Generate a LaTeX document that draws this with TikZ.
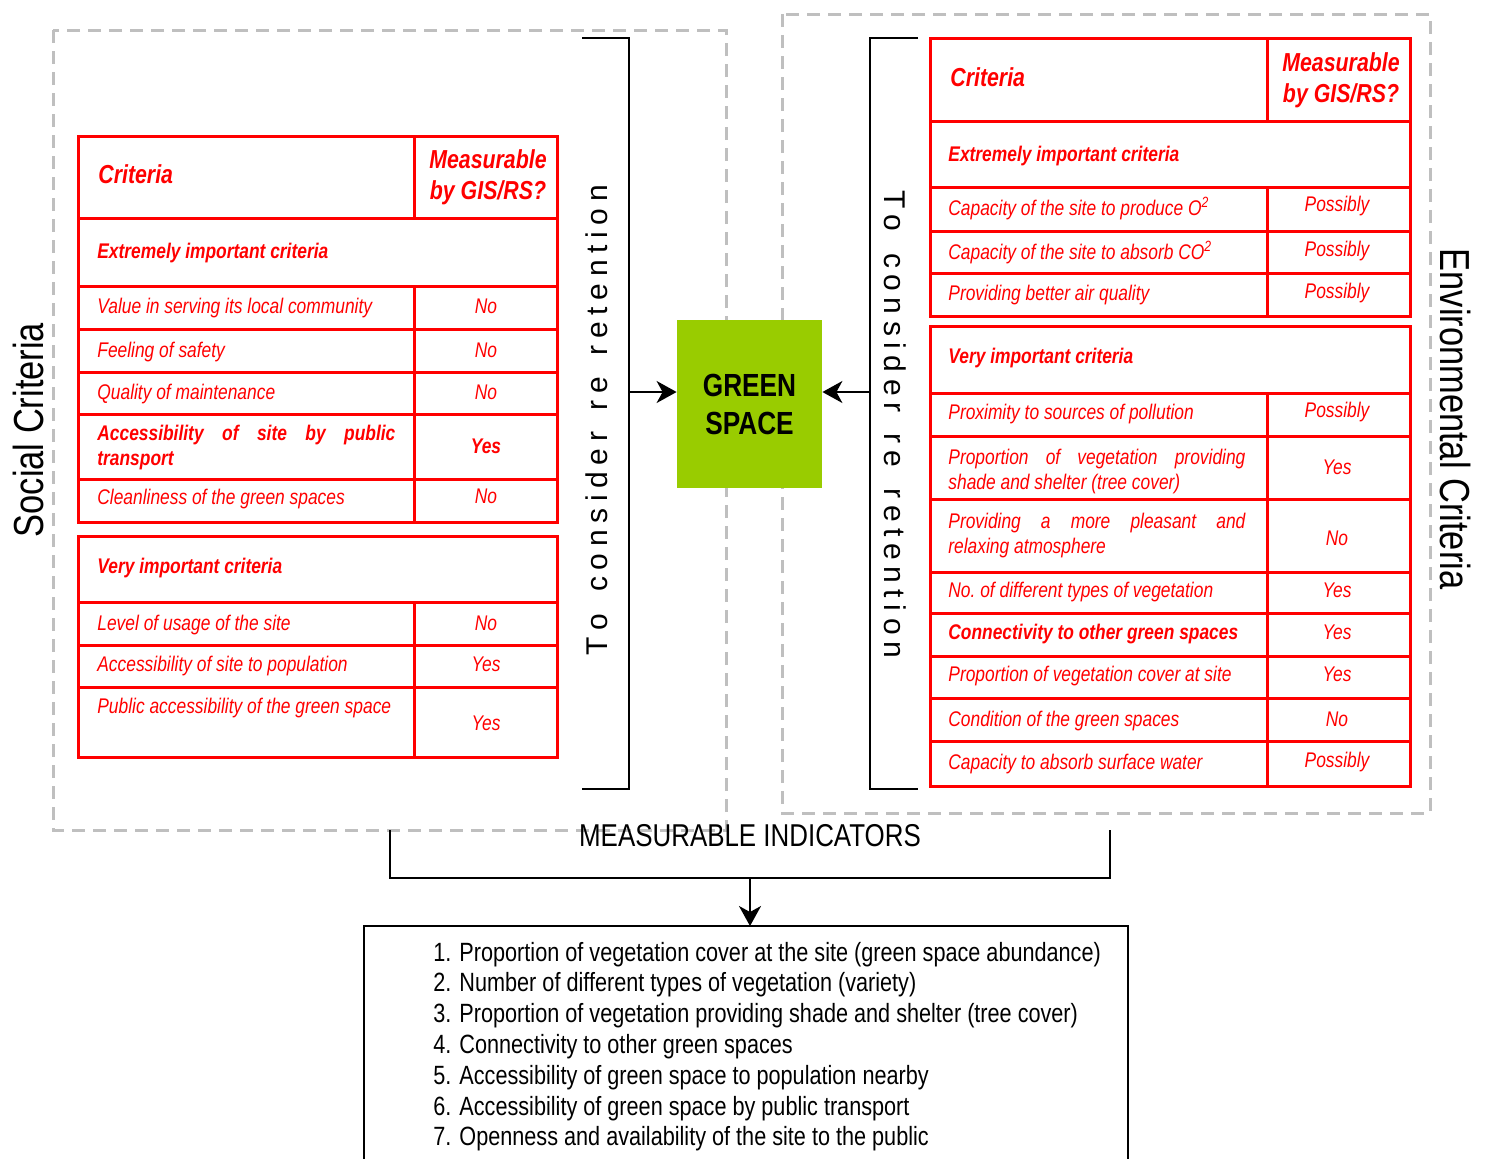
\documentclass[tikz,border=0pt]{standalone}
\usepackage{fontspec}
\setmainfont{Liberation Sans}[FakeStretch=0.82]
\newfontfamily\widefont{Liberation Sans}
\usetikzlibrary{arrows.meta}

\definecolor{tabred}{RGB}{255,0,0}
\definecolor{framegray}{RGB}{191,191,191}
\definecolor{leaf}{RGB}{153,204,0}

\tikzset{
  redrule/.style={draw=tabred, line width=1.5pt},
  dashframe/.style={draw=framegray, line width=1.5pt, dash pattern=on 6.5pt off 4pt},
  bracketline/.style={draw=black, line width=1pt},
  arr/.style={-{Stealth[length=10pt,width=11pt,inset=3pt]}, line width=1pt},
  cell/.style={anchor=west, inner sep=0pt, text=tabred, align=left, yshift=-0.8pt,
    font=\fontsize{10.6}{12.5}\selectfont\itshape},
  bcell/.style={cell, font=\fontsize{10.6}{12.5}\selectfont\bfseries\itshape},
  val/.style={inner sep=0pt, text=tabred, font=\fontsize{10.6}{12.5}\selectfont\itshape},
  bval/.style={val, font=\fontsize{10.6}{12.5}\selectfont\bfseries\itshape},
  headcell/.style={inner sep=0pt, text=tabred, align=left,
    font=\fontsize{13}{15.5}\selectfont\bfseries\itshape},
  sidetitle/.style={inner sep=0pt, font=\fontsize{21}{25}\selectfont},
  spreadlabel/.style={inner sep=0pt, font=\widefont\fontsize{15}{18}\selectfont},
  listline/.style={anchor=base west, inner sep=0pt, font=\fontsize{13.2}{15.4}\selectfont},
}

\newcommand\spreadtext{T\hfill o\hfill\ \hfill c\hfill o\hfill n\hfill s\hfill i\hfill d\hfill e\hfill r\hfill\ \hfill r\hfill e\hfill\ \hfill r\hfill e\hfill t\hfill e\hfill n\hfill t\hfill i\hfill o\hfill n}

\begin{document}
\begin{tikzpicture}[x=0.5pt,y=-0.5pt]
\clip (0,0) rectangle (1486,1158);

% dashed group frames
\draw[dashframe] (53,30) rectangle (726,830);
\draw[dashframe] (782,14) rectangle (1430,813);

% side titles
\node[sidetitle, rotate=90] (social) at (28,430) {Social Criteria};
\node[sidetitle, rotate=-90] (env) at (1455,419) {Environmental Criteria};

% ---------- social table, first block ----------
\draw[redrule] (78,136) rectangle (557,522);
\foreach \yy in {218,286,329,372,414,479} \draw[redrule] (78,\yy) -- (557,\yy);
\draw[redrule] (414,136) -- (414,218);
\draw[redrule] (414,286) -- (414,522);

\node[headcell, anchor=west] (sh1) at (98,174) {Criteria};
\node[headcell, align=center] (sh2) at (488,177) {Measurable\\by GIS/RS?};
\node[bcell] (sx) at (97,251) {Extremely important criteria};
\node[cell] (s1) at (97,306) {Value in serving its local community};
\node[val] (s1v) at (486,306) {No};
\node[cell] (s2) at (97,350) {Feeling of safety};
\node[val] (s2v) at (486,350) {No};
\node[cell] (s3) at (97,392) {Quality of maintenance};
\node[val] (s3v) at (486,392) {No};
\node[bcell] (s4) at (97,445.5) {\makebox[149pt][s]{Accessibility of site by public}\\transport};
\node[bval] (s4v) at (486,446) {Yes};
\node[cell] (s5) at (97,497) {Cleanliness of the green spaces};
\node[val] (s5v) at (486,496) {No};

% ---------- social table, second block ----------
\draw[redrule] (78,536) rectangle (557,757);
\foreach \yy in {602,645,687} \draw[redrule] (78,\yy) -- (557,\yy);
\draw[redrule] (414,602) -- (414,757);

\node[bcell] (sv) at (97,566) {Very important criteria};
\node[cell] (s6) at (97,623) {Level of usage of the site};
\node[val] (s6v) at (486,623) {No};
\node[cell] (s7) at (97,664) {Accessibility of site to population};
\node[val] (s7v) at (486,664) {Yes};
\node[cell] (s8) at (97,706) {Public accessibility of the green space};
\node[val] (s8v) at (486,723) {Yes};

% ---------- environmental table, first block ----------
\draw[redrule] (930,38) rectangle (1410,316);
\foreach \yy in {121,187,231,273} \draw[redrule] (930,\yy) -- (1410,\yy);
\draw[redrule] (1267,38) -- (1267,121);
\draw[redrule] (1267,187) -- (1267,316);

\node[headcell, anchor=west] (eh1) at (950,77) {Criteria};
\node[headcell, align=center] (eh2) at (1341,80) {Measurable\\by GIS/RS?};
\node[bcell] (ex) at (948,154) {Extremely important criteria};
\node[cell] (e1) at (948,207) {Capacity of the site to produce O\textsuperscript{2}};
\node[val] (e1v) at (1337,206) {Possibly};
\node[cell] (e2) at (948,251) {Capacity of the site to absorb CO\textsuperscript{2}};
\node[val] (e2v) at (1337,251) {Possibly};
\node[cell] (e3) at (948,293) {Providing better air quality};
\node[val] (e3v) at (1337,293) {Possibly};

% ---------- environmental table, second block ----------
\draw[redrule] (930,326) rectangle (1410,786);
\foreach \yy in {393,436,499,572,613,656,698,741} \draw[redrule] (930,\yy) -- (1410,\yy);
\draw[redrule] (1267,393) -- (1267,786);

\node[bcell] (ev) at (948,356) {Very important criteria};
\node[cell] (e4) at (948,412) {Proximity to sources of pollution};
\node[val] (e4v) at (1337,412) {Possibly};
\node[cell] (e5) at (948,469.5) {\makebox[148.5pt][s]{Proportion of vegetation providing}\\shade and shelter (tree cover)};
\node[val] (e5v) at (1337,467) {Yes};
\node[cell] (e6) at (948,533.5) {\makebox[148.5pt][s]{Providing a more pleasant and}\\relaxing atmosphere};
\node[val] (e6v) at (1337,538) {No};
\node[cell] (e7) at (948,590) {No.\ of different types of vegetation};
\node[val] (e7v) at (1337,590) {Yes};
\node[bcell] (e8) at (948,632) {Connectivity to other green spaces};
\node[val] (e8v) at (1337,632) {Yes};
\node[cell] (e9) at (948,674) {Proportion of vegetation cover at site};
\node[val] (e9v) at (1337,674) {Yes};
\node[cell] (e10) at (948,719) {Condition of the green spaces};
\node[val] (e10v) at (1337,719) {No};
\node[cell] (e11) at (948,762) {Capacity to absorb surface water};
\node[val] (e11v) at (1337,762) {Possibly};

% ---------- central green space ----------
\node[fill=leaf, minimum width=72.5pt, minimum height=84pt, inner sep=0pt,
      align=center, font=\fontsize{16}{19}\selectfont\bfseries] (gs) at (749.5,404) {GREEN\\SPACE};

% left bracket with its label and arrow
\coordinate (lTop) at (582,38);
\coordinate (lBot) at (582,789);
\coordinate (lMid) at (629,392);
\draw[bracketline] (lTop) -- (629,38) -- (629,789) -- (lBot);
\node[spreadlabel, rotate=90] (lret) at (597,420) {\makebox[235pt]{\spreadtext}};
\draw[arr] (lMid) -- (gs.west |- lMid);

% right bracket with its label and arrow
\coordinate (rTop) at (918,38);
\coordinate (rBot) at (918,789);
\coordinate (rMid) at (870,392);
\draw[bracketline] (rTop) -- (870,38) -- (870,789) -- (rBot);
\node[spreadlabel, rotate=-90] (rret) at (895,424) {\makebox[234pt]{\spreadtext}};
\draw[arr] (rMid) -- (gs.east |- rMid);

% ---------- measurable indicators ----------
\node[inner sep=0pt, font=\fontsize{15.8}{18}\selectfont] (mi) at (750,836) {MEASURABLE INDICATORS};
\coordinate (mL) at (390,830);
\coordinate (mR) at (1110,830);
\coordinate (mJoin) at (750,878);
\coordinate (listTop) at (750,926);
\draw[bracketline] (mL) -- (390,878) -- (1110,878) -- (mR);
\draw[arr] (mJoin) -- (listTop);

\draw[bracketline] (364,1180) -- (364,926) -- (1128,926) -- (1128,1180);

\node[listline] (i1) at (433,961) {1. Proportion of vegetation cover at the site (green space abundance)};
\node[listline] (i2) at (433,991.8) {2. Number of different types of vegetation (variety)};
\node[listline] (i3) at (433,1022.6) {3. Proportion of vegetation providing shade and shelter (tree cover)};
\node[listline] (i4) at (433,1053.4) {4. Connectivity to other green spaces};
\node[listline] (i5) at (433,1084.2) {5. Accessibility of green space to population nearby};
\node[listline] (i6) at (433,1115) {6. Accessibility of green space by public transport};
\node[listline] (i7) at (433,1145.8) {7. Openness and availability of the site to the public};
\end{tikzpicture}
\end{document}
